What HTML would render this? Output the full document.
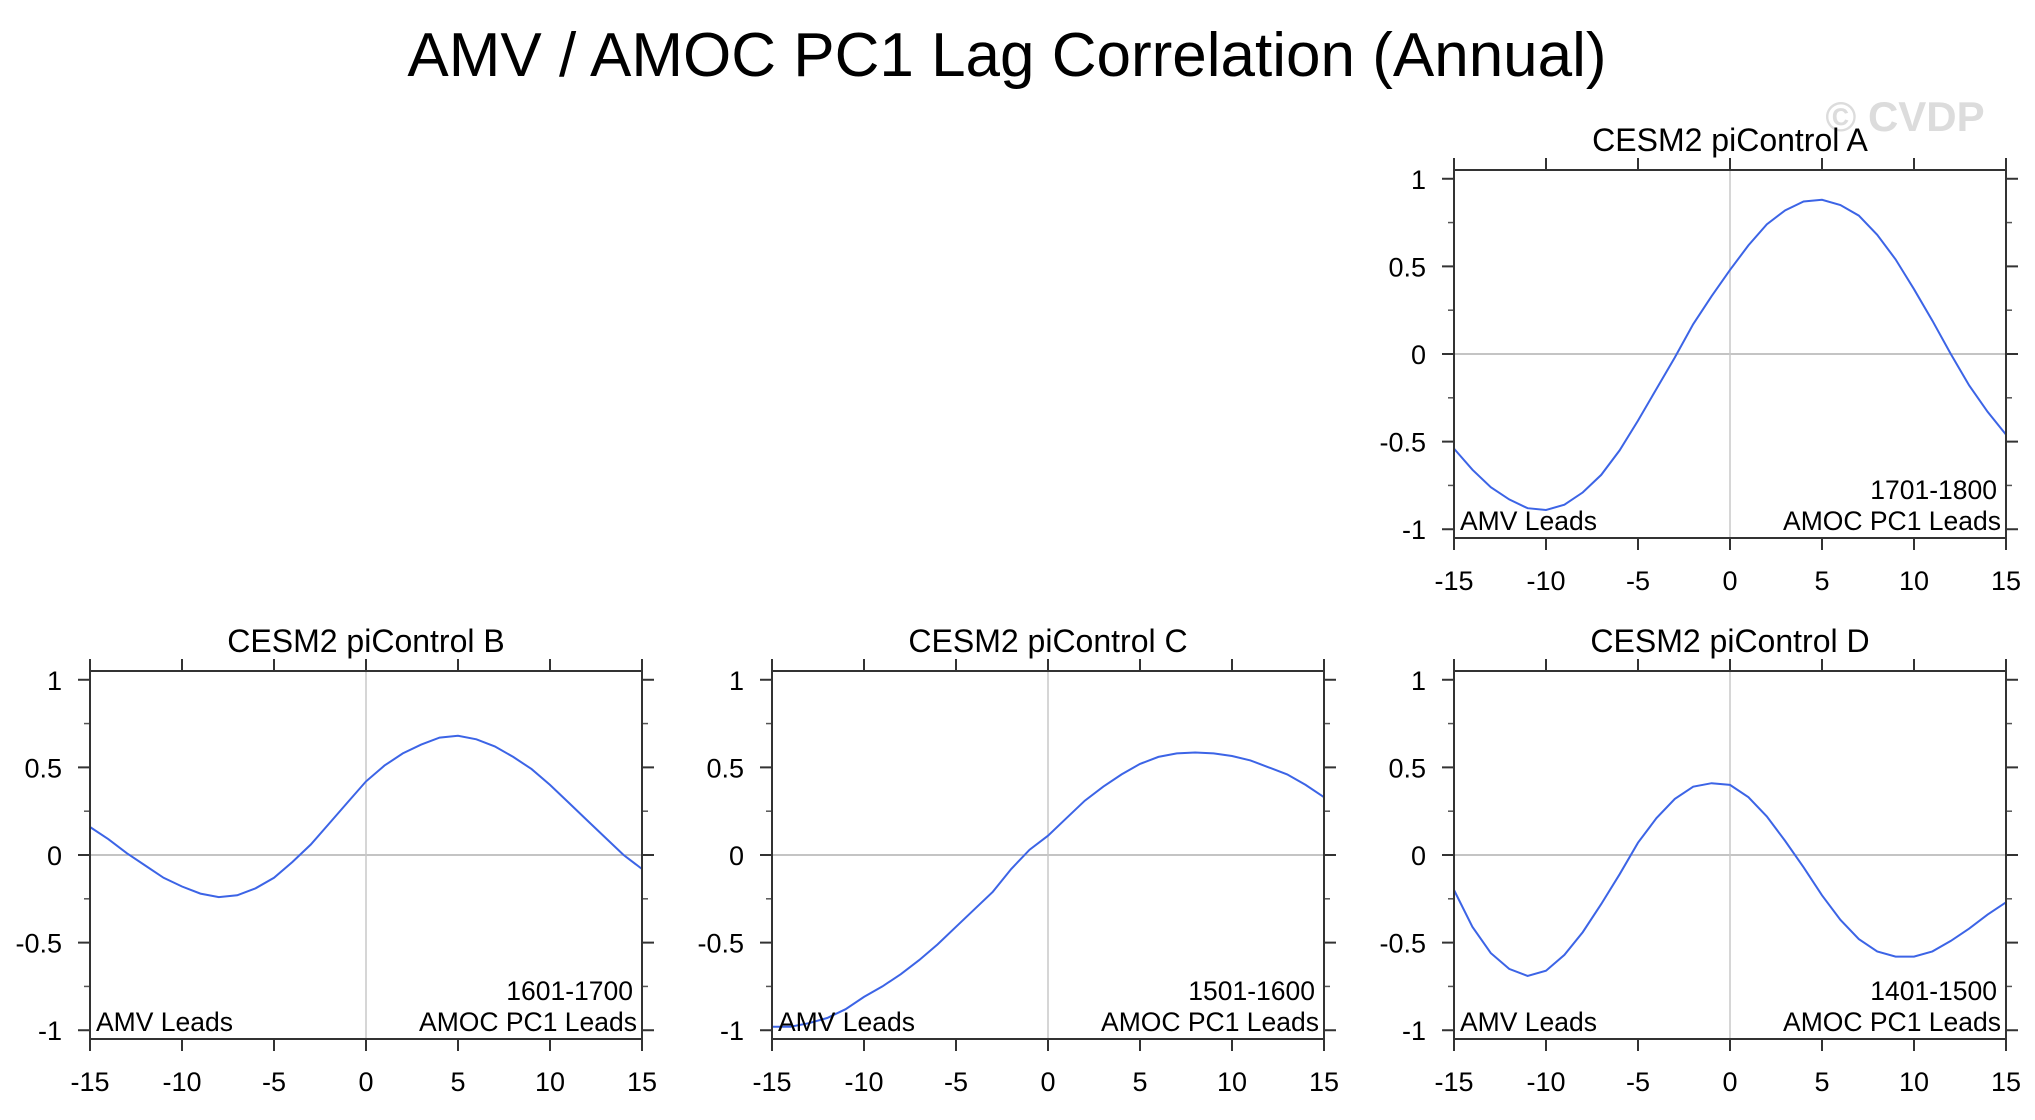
<!DOCTYPE html>
<html><head><meta charset="utf-8"><style>
html,body{margin:0;padding:0;background:#fff;}
svg{display:block;font-family:"Liberation Sans",Arial,sans-serif;}
</style></head><body>
<svg id="fig" width="2035" height="1120" viewBox="0 0 2035 1120" xmlns="http://www.w3.org/2000/svg">
<text x="1007" y="76" font-size="62" text-anchor="middle" fill="#000">AMV / AMOC PC1 Lag Correlation (Annual)</text>
<text x="1905" y="131" font-size="42" font-weight="bold" text-anchor="middle" fill="#dcdcdc">© CVDP</text>
</svg>
<script>
const lags = [-15,-14,-13,-12,-11,-10,-9,-8,-7,-6,-5,-4,-3,-2,-1,0,1,2,3,4,5,6,7,8,9,10,11,12,13,14,15];
const seriesA = [-0.54,-0.66,-0.76,-0.83,-0.88,-0.89,-0.86,-0.79,-0.69,-0.55,-0.38,-0.2,-0.02,0.17,0.33,0.48,0.62,0.74,0.82,0.87,0.88,0.85,0.79,0.68,0.54,0.37,0.19,0.0,-0.18,-0.33,-0.46];
const seriesB = [0.16,0.09,0.01,-0.06,-0.13,-0.18,-0.22,-0.24,-0.23,-0.19,-0.13,-0.04,0.06,0.18,0.3,0.42,0.51,0.58,0.63,0.67,0.68,0.66,0.62,0.56,0.49,0.40,0.30,0.20,0.10,0.0,-0.08];
const seriesC = [-0.98,-0.98,-0.96,-0.93,-0.88,-0.81,-0.75,-0.68,-0.60,-0.51,-0.41,-0.31,-0.21,-0.08,0.03,0.11,0.21,0.31,0.39,0.46,0.52,0.56,0.58,0.585,0.58,0.565,0.54,0.50,0.46,0.40,0.33];
const seriesD = [-0.2,-0.41,-0.56,-0.65,-0.69,-0.66,-0.57,-0.44,-0.28,-0.11,0.07,0.21,0.32,0.39,0.41,0.40,0.33,0.22,0.08,-0.07,-0.23,-0.37,-0.48,-0.55,-0.58,-0.58,-0.55,-0.49,-0.42,-0.34,-0.27];
const panelTitles = ["CESM2 piControl A","CESM2 piControl B","CESM2 piControl C","CESM2 piControl D"];
const periods = ["1701-1800","1601-1700","1501-1600","1401-1500"];
const xTicks = [-15,-10,-5,0,5,10,15];
const xTickLabels = ["-15","-10","-5","0","5","10","15"];
const yTicks = [-1,-0.5,0,0.5,1];
const yTickLabels = ["-1","-0.5","0","0.5","1"];
const yMinor = [-0.75,-0.25,0.25,0.75];

const NS="http://www.w3.org/2000/svg";
const svg=document.getElementById('fig');
function mk(tag,attrs,parent){const e=document.createElementNS(NS,tag);for(const k in attrs)e.setAttribute(k,attrs[k]);(parent||svg).appendChild(e);return e;}

const layouts=[{l:1454,t:170},{l:90,t:671},{l:772,t:671},{l:1454,t:671}];
const allSeries=[seriesA,seriesB,seriesC,seriesD];
const W=552,H=368,YR=1.05;
const keys=['a','b','c','d'];

layouts.forEach((p,i)=>{
  const g=mk('g',{});
  
  
  const xs=v=>p.l+(v+15)/30*W;
  const ys=v=>p.t+(YR-v)/(2*YR)*H;
  const R=p.l+W,B=p.t+H;
  const zh=mk('line',{x1:p.l,x2:R,y1:ys(0),y2:ys(0),stroke:'#b0b0b0','stroke-width':1.5},g);
  
  
  const zv=mk('line',{x1:xs(0),x2:xs(0),y1:p.t,y2:B,stroke:'#c8c8c8','stroke-width':1.5},g);
  
  
  xTicks.forEach((v,k)=>{
    mk('line',{x1:xs(v),x2:xs(v),y1:B,y2:B+12,stroke:'#333','stroke-width':2},g);
    mk('line',{x1:xs(v),x2:xs(v),y1:p.t,y2:p.t-12,stroke:'#333','stroke-width':2},g);
    const t=mk('text',{x:xs(v),y:B+52,'font-size':27,'text-anchor':'middle',fill:'#000'},g);
    t.textContent=xTickLabels[k];
    
    
  });
  yTicks.forEach((v,k)=>{
    mk('line',{x1:p.l-12,x2:p.l,y1:ys(v),y2:ys(v),stroke:'#333','stroke-width':2},g);
    mk('line',{x1:R,x2:R+12,y1:ys(v),y2:ys(v),stroke:'#333','stroke-width':2},g);
    const t=mk('text',{x:p.l-28,y:ys(v)+10,'font-size':27,'text-anchor':'end',fill:'#000'},g);
    t.textContent=yTickLabels[k];
    
    
  });
  yMinor.forEach(v=>{
    mk('line',{x1:p.l-6,x2:p.l,y1:ys(v),y2:ys(v),stroke:'#555','stroke-width':1.5},g);
    mk('line',{x1:R,x2:R+6,y1:ys(v),y2:ys(v),stroke:'#555','stroke-width':1.5},g);
  });
  const d=lags.map((x,k)=>(k?'L':'M')+xs(x).toFixed(1)+','+ys(allSeries[i][k]).toFixed(1)).join(' ');
  const path=mk('path',{d:d,fill:'none',stroke:'#3c64e6','stroke-width':2},g);
  
  
  const fr=mk('rect',{x:p.l,y:p.t,width:W,height:H,fill:'none',stroke:'#333','stroke-width':2},g);
  
  
  const tt=mk('text',{x:p.l+W/2,y:p.t-19,'font-size':32,'text-anchor':'middle',fill:'#000'},g);
  tt.textContent=panelTitles[i];
  
  
  const a=mk('text',{x:p.l+6,y:B-8,'font-size':26.5,fill:'#000'},g);
  a.textContent='AMV Leads';
  
  
  const b=mk('text',{x:R-5,y:B-8,'font-size':26.5,'text-anchor':'end',fill:'#000'},g);
  b.textContent='AMOC PC1 Leads';
  
  
  const c=mk('text',{x:R-9,y:B-39,'font-size':26.5,'text-anchor':'end',fill:'#000'},g);
  c.textContent=periods[i];
  
  
});
</script>
</body></html>
